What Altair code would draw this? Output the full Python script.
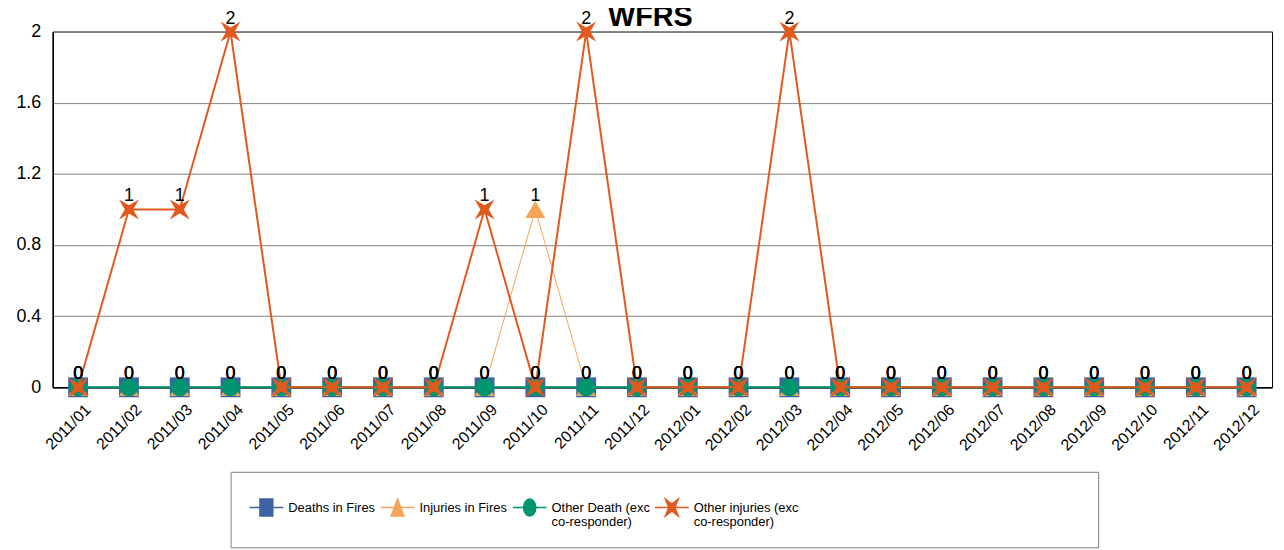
import altair as alt
import pandas as pd

months = ["2011/01", "2011/02", "2011/03", "2011/04", "2011/05", "2011/06",
          "2011/07", "2011/08", "2011/09", "2011/10", "2011/11", "2011/12",
          "2012/01", "2012/02", "2012/03", "2012/04", "2012/05", "2012/06",
          "2012/07", "2012/08", "2012/09", "2012/10", "2012/11", "2012/12"]

series_names = ["Deaths in Fires", "Injuries in Fires",
                "Other Death (exc co-responder)", "Other injuries (exc co-responder)"]

deaths_in_fires = [0, 0, 0, 0, 0, 0, 0, 0, 0, 0, 0, 0,
                   0, 0, 0, 0, 0, 0, 0, 0, 0, 0, 0, 0]
injuries_in_fires = [0, 0, 0, 0, 0, 0, 0, 0, 0, 1, 0, 0,
                     0, 0, 0, 0, 0, 0, 0, 0, 0, 0, 0, 0]
other_death = [0, 0, 0, 0, 0, 0, 0, 0, 0, 0, 0, 0,
               0, 0, 0, 0, 0, 0, 0, 0, 0, 0, 0, 0]
other_injuries = [0, 1, 1, 2, 0, 0, 0, 0, 1, 0, 2, 0,
                  0, 0, 2, 0, 0, 0, 0, 0, 0, 0, 0, 0]

colors = ["#3D63A0", "#F4A55A", "#00956F", "#E05A20"]
line_widths = [1.5, 1, 2, 2]
FONT = "Liberation Sans"

star_path = "M-1,-1L0,-0.42L1,-1L0.42,0L1,1L0,0.42L-1,1L-0.42,0Z"
marker_shapes = ["square", "triangle-up", "circle", star_path]
marker_sizes = [400, 400, 324, 400]

legend_shapes = [
    "M-1,0H1M-0.38,-0.5H0.38V0.5H-0.38Z",
    "M-1,0H1M0,-0.5L0.38,0.5H-0.38Z",
    "M-1,0H1M-0.36,0A0.36,0.5,0,1,0,0.36,0A0.36,0.5,0,1,0,-0.36,0Z",
    "M-1,0H1M-0.38,-0.5L0,-0.2L0.38,-0.5L0.18,0L0.38,0.5L0,0.2L-0.38,0.5L-0.18,0Z",
    "M0,0",
]

all_values = [deaths_in_fires, injuries_in_fires, other_death, other_injuries]
rows = []
for s, vals in zip(series_names, all_values):
    for m, v in zip(months, vals):
        rows.append({"month": m, "series": s, "v": v})
df = pd.DataFrame(rows)

x_enc = alt.X("month:O", sort=months,
              scale=alt.Scale(type="point", padding=0.5),
              axis=alt.Axis(title=None, labelAngle=-45, ticks=False, labelFontSize=16,
                            labelFont=FONT, labelColor="black", domainColor="black",
                            domainWidth=1.5, grid=False, labelPadding=14, labelOffset=4))
y_enc = alt.Y("v:Q", scale=alt.Scale(domain=[0, 2], nice=False),
              axis=alt.Axis(title=None, values=[0, 0.4, 0.8, 1.2, 1.6, 2], format="~g",
                            ticks=False, labelPadding=12, labelFontSize=18, labelFont=FONT,
                            labelColor="black", gridColor="#808080", gridWidth=1,
                            domainColor="black", domainWidth=1.5))

base = alt.Chart(df)
layers = []
for i, s in enumerate(series_names):
    sub = base.transform_filter(alt.datum.series == s)
    layers.append(sub.mark_line(color=colors[i], strokeWidth=line_widths[i]).encode(x=x_enc, y=y_enc))
    layers.append(sub.mark_point(filled=True, opacity=1, color=colors[i], shape=marker_shapes[i],
                                 size=marker_sizes[i]).encode(x=x_enc, y=y_enc))

labels = base.mark_text(dy=-8, baseline="alphabetic", fontSize=18, font=FONT, color="black").encode(
    x=x_enc, y=y_enc, text=alt.Text("v:Q"))
layers.append(labels)

label_expr = ("datum.label == '_pad' ? pad('', 37, 'x') : "
              "datum.label == 'Other Death (exc co-responder)' ? ['Other Death (exc', 'co-responder)'] : "
              "datum.label == 'Other injuries (exc co-responder)' ? ['Other injuries (exc', 'co-responder)'] : "
              "datum.label")

legend_domain = series_names + ["_pad"]
legend_colors = colors + ["transparent"]


def make_legend():
    return alt.Legend(title=None, orient="none", legendX=179, legendY=443, direction="horizontal",
                      columns=5, labelFont=FONT, labelFontSize=13,
                      labelColor={"expr": "datum.label == '_pad' ? 'transparent' : 'black'"},
                      symbolSize=1156, symbolStrokeWidth=1.5, symbolOpacity=1,
                      strokeColor="#7f7f7f", fillColor="white", padding=18, columnPadding=2,
                      labelOffset=4, labelExpr=label_expr, gridAlign="none", labelLimit=400)


legend_layer = base.transform_filter("datum.v < 0").mark_point(
    filled=True, opacity=1, strokeWidth=1.5).encode(
    x=x_enc, y=y_enc,
    fill=alt.Fill("series:N", scale=alt.Scale(domain=legend_domain, range=legend_colors), legend=make_legend()),
    stroke=alt.Stroke("series:N", scale=alt.Scale(domain=legend_domain, range=legend_colors), legend=make_legend()),
    shape=alt.Shape("series:N", scale=alt.Scale(domain=legend_domain, range=legend_shapes), legend=make_legend()),
)
layers.append(legend_layer)

chart = alt.layer(*layers).properties(
    width=1227, height=358,
    title=alt.Title("WFRS", fontSize=29, fontWeight="bold", font=FONT, color="black", offset=-22, dx=-12),
    autosize=alt.AutoSizeParams(type="none"),
    padding={"left": 45, "top": 22, "right": 4, "bottom": 162},
    background="white",
).configure_view(stroke="black", strokeWidth=1)

chart.save("out.html", embed_options={"renderer": "svg", "actions": False})
